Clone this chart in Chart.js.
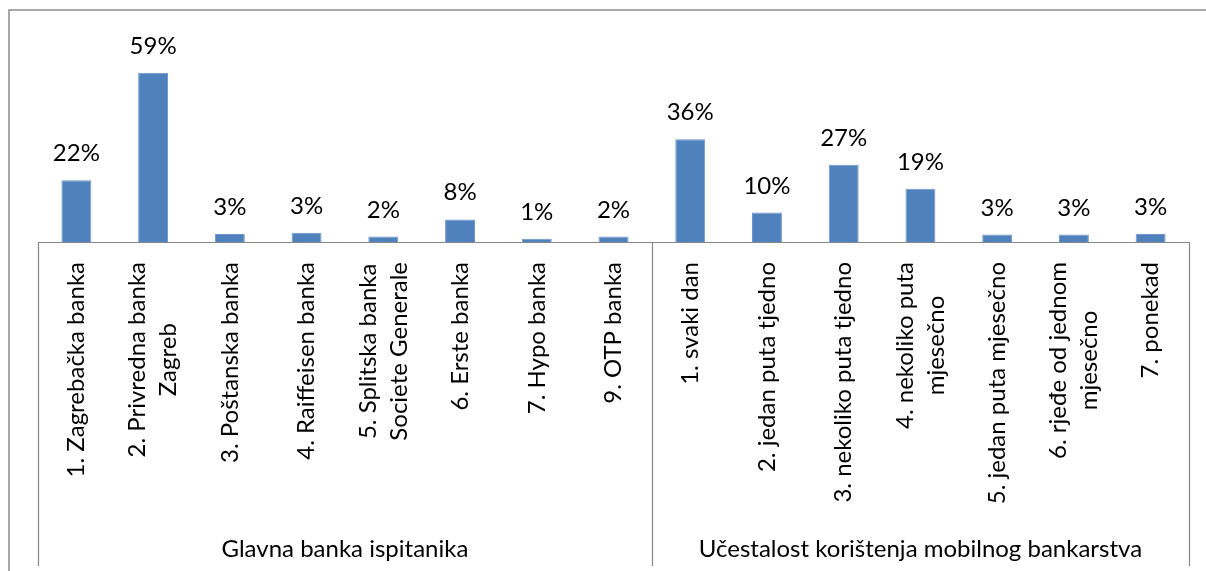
<!DOCTYPE html>
<html>
<head>
<meta charset="utf-8">
<script src="https://cdn.jsdelivr.net/npm/chart.js@4"></script>
<style>
    body { margin: 0; background: #fff; }
    #wrap { width: 1206px; height: 571px; position: relative; }
</style>
</head>
<body>
<div id="wrap"><canvas id="bankChart"></canvas></div>
<script>
// categories (each entry = lines of the rotated tick label)
const categories = [
    ['1. Zagrebačka banka'],
    ['2. Privredna banka', 'Zagreb'],
    ['3. Poštanska banka'],
    ['4. Raiffeisen banka'],
    ['5. Splitska banka', 'Societe Generale'],
    ['6. Erste banka'],
    ['7. Hypo banka'],
    ['9. OTP banka'],
    ['1. svaki dan'],
    ['2. jedan puta tjedno'],
    ['3. nekoliko puta tjedno'],
    ['4. nekoliko puta', 'mjesečno'],
    ['5. jedan puta mjesečno'],
    ['6. rjeđe od jednom', 'mjesečno'],
    ['7. ponekad']
];
const groups = ['Glavna banka ispitanika', 'Učestalost korištenja mobilnog bankarstva'];
const groupSizes = [8, 7];

// percentages
const values = [21.6, 59.2, 2.8, 3.2, 1.9, 7.9, 1.1, 1.9, 36.0, 10.3, 27.0, 18.6, 2.6, 2.6, 2.8];
const yMax = 70;

const FONT = 'Lato, "Open Sans", sans-serif';
const FSIZE = 24;

const decorations = {
    id: 'decorations',
    beforeDraw(chart) {
        const ctx = chart.ctx;
        ctx.save();
        ctx.fillStyle = '#fff';
        ctx.fillRect(0, 0, chart.width, chart.height);
        ctx.strokeStyle = '#8c8c8c';
        ctx.lineWidth = 1.5;
        ctx.strokeRect(9, 10, 1400, 800);
        ctx.restore();
    },
    afterDatasetsDraw(chart) {
        const ctx = chart.ctx;
        const area = chart.chartArea;
        const x = chart.scales.x;
        const meta = chart.getDatasetMeta(0);
        const step = x.getPixelForValue(1) - x.getPixelForValue(0);
        const bottomY = 566;

        ctx.save();
        // axis line and group separators
        ctx.strokeStyle = '#868686';
        ctx.lineWidth = 1.2;
        ctx.beginPath();
        ctx.moveTo(area.left, area.bottom + 0.5);
        ctx.lineTo(area.right, area.bottom + 0.5);
        let start = 0;
        const edges = [area.left];
        groupSizes.forEach(n => {
            start += n;
            edges.push(x.getPixelForValue(start - 1) + step / 2);
        });
        edges.forEach(ex => {
            ctx.moveTo(Math.round(ex) + 0.5, area.bottom);
            ctx.lineTo(Math.round(ex) + 0.5, bottomY);
        });
        ctx.stroke();

        // value labels
        ctx.fillStyle = '#000';
        ctx.font = FSIZE + 'px ' + FONT;
        ctx.textAlign = 'center';
        ctx.textBaseline = 'alphabetic';
        meta.data.forEach((bar, i) => {
            ctx.fillText(Math.round(values[i]) + '%', bar.x, bar.y - 19);
        });

        // rotated category labels, lines centred, block ending near the axis
        const lineH = 31;
        const topY = area.bottom + 20;
        categories.forEach((lines, i) => {
            const cx = x.getPixelForValue(i);
            const w = Math.max(...lines.map(l => ctx.measureText(l).width));
            ctx.save();
            ctx.translate(cx, topY);
            ctx.rotate(-Math.PI / 2);
            ctx.textBaseline = 'middle';
            ctx.textAlign = 'center';
            lines.forEach((l, j) => {
                ctx.fillText(l, -w / 2, (j - (lines.length - 1) / 2) * lineH);
            });
            ctx.restore();
        });

        // group labels
        ctx.textBaseline = 'alphabetic';
        groups.forEach((g, k) => {
            ctx.fillText(g, (edges[k] + edges[k + 1]) / 2, 557);
        });
        ctx.restore();
    }
};

new Chart(document.getElementById('bankChart').getContext('2d'), {
    type: 'bar',
    data: {
        labels: categories,
        datasets: [{
            data: values,
            backgroundColor: '#4f81bd',
            borderColor: '#6f97c9',
            borderWidth: 1,
            categoryPercentage: 1,
            barPercentage: 0.39
        }]
    },
    options: {
        responsive: true,
        maintainAspectRatio: false,
        animation: false,
        layout: { padding: { left: 38, right: 17, top: 42, bottom: 329 } },
        plugins: { legend: { display: false }, tooltip: { enabled: false } },
        scales: {
            x: { display: false },
            y: { display: false, min: 0, max: yMax }
        }
    },
    plugins: [decorations]
});
</script>
</body>
</html>
